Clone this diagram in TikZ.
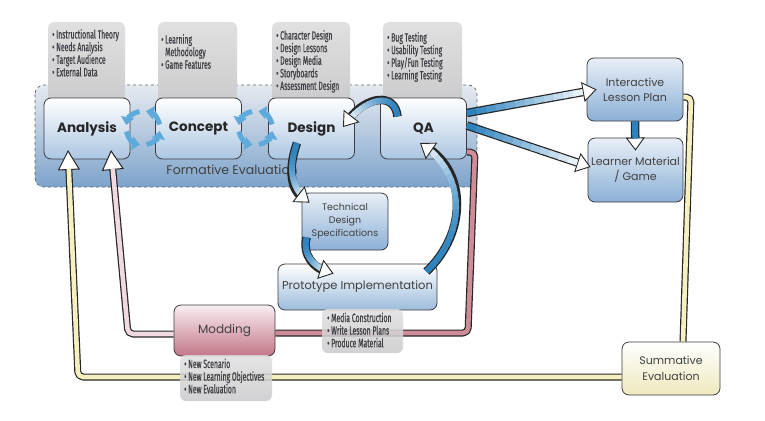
\documentclass[tikz,border=0pt]{standalone}
\usepackage{fontspec}
\setmainfont{Poppins}
\newfontfamily\condfont[FakeStretch=0.57,FakeBold=0.5]{Fira Sans}
\usetikzlibrary{arrows.meta,calc}
\definecolor{fbtop}{RGB}{230,234,240}
\definecolor{fbbot}{RGB}{125,163,203}
\definecolor{boxbot}{RGB}{172,198,226}
\definecolor{outbot}{RGB}{140,176,214}
\definecolor{tabtop}{RGB}{224,224,224}
\definecolor{tabbot}{RGB}{202,202,204}
\definecolor{tabtxt}{RGB}{62,62,68}
\definecolor{cblue}{RGB}{45,130,190}
\definecolor{ringblue}{RGB}{95,170,220}
\definecolor{yel}{RGB}{246,240,192}
\definecolor{pinkL}{RGB}{240,218,224}
\definecolor{pinkR}{RGB}{205,140,152}
\definecolor{modtop}{RGB}{248,238,240}
\definecolor{modbot}{RGB}{196,118,136}
\definecolor{sumbot}{RGB}{238,233,190}
\definecolor{edge}{RGB}{60,60,66}
% Bezier weights at parameter #1, stored in \wA..\wD
\newcommand\bzw[1]{%
  \pgfmathsetmacro\wu{1-#1}%
  \pgfmathsetmacro\wA{\wu*\wu*\wu}\pgfmathsetmacro\wB{3*\wu*\wu*#1}%
  \pgfmathsetmacro\wC{3*\wu*#1*#1}\pgfmathsetmacro\wD{#1*#1*#1}}
% gradient body of a curved arrow: start, control 1, control 2, end, last parameter
\newcommand\gcurve[5]{%
  \foreach \k in {0,...,17}{%
    \pgfmathsetmacro\ta{#5*\k/18}%
    \pgfmathsetmacro\tb{min(#5,#5*(\k+1.2)/18)}%
    \bzw{\ta}\coordinate (gP) at ($\wA*(#1)+\wB*(#2)+\wC*(#3)+\wD*(#4)$);%
    \bzw{\tb}\coordinate (gQ) at ($\wA*(#1)+\wB*(#2)+\wC*(#3)+\wD*(#4)$);%
    \pgfmathtruncatemacro\c{100-80*(\k/17)*(\k/17)}%
    \draw[line width=6pt, cblue!\c!white] (gP) -- (gQ);
  }}
% arrow head at the end of a curve
\newcommand\ghead[4]{%
  \bzw{0.95}\coordinate (gP) at ($\wA*(#1)+\wB*(#2)+\wC*(#3)+\wD*(#4)$);%
  \draw[black!85, line width=0.1pt, -{Triangle[length=14pt,width=20pt,fill=white,line width=0.9pt]}]
    (gP) -- (#4);
}
\begin{document}
\begin{tikzpicture}[x=1pt,y=-1pt,
  phase/.style={draw=edge, line width=0.8pt, rounded corners=7pt, top color=white, bottom color=boxbot,
    minimum width=86pt, minimum height=61pt, font=\fontsize{13.5}{16}\selectfont\bfseries, text=black!85},
  outbox/.style={draw=edge, line width=0.8pt, rounded corners=7pt, top color=white!80!outbot, bottom color=outbot,
    align=center, text=black!75, inner xsep=0pt},
  tabshape/.style={rounded corners=6pt, top color=tabtop, bottom color=tabbot},
  tabtext/.style={anchor=north west, align=left, inner sep=0pt, text=tabtxt,
    font=\condfont\fontsize{12}{12.6}\selectfont},
  lineout/.style={line width=7pt, draw=black!85, rounded corners=5pt, line join=round},
  linein/.style={line width=4.6pt, rounded corners=5pt, line join=round, shorten >=19pt},
  bigtip/.style={-{Triangle[length=20pt,width=22pt,fill=white,line width=1pt]}},
  fatout/.style={line width=8.5pt, draw=black!85},
  fattip/.style={-{Triangle[length=14pt,width=20pt,fill=white,line width=0.9pt]}},
  ring/.style={ringblue, line width=5pt, -{Triangle[length=8pt,width=13pt]}}
]
\fill[white] (0,0) rectangle (765,420);
\useasboundingbox (0,0) rectangle (765,420);

% formative evaluation region
\draw[dashed, draw=edge!80, line width=0.7pt, rounded corners=9pt, top color=fbtop, bottom color=fbbot]
  (35,85) rectangle (477,187);
\node[font=\fontsize{12.5}{14}\selectfont, text=black!75] (form) at (232,170) {Formative Evaluation};

% top tabs
\path[tabshape] (48,22) rectangle (125,106);
\path[tabshape] (158,22) rectangle (237,106);
\path[tabshape] (272,22) rectangle (350,106);
\path[tabshape] (383,22) rectangle (462,106);
\node[tabtext] (tA) at (52,29) {• Instructional Theory\\• Needs Analysis\\• Target Audience\\• External Data};
\node[tabtext] (tC) at (161,34) {• Learning\\\phantom{• }Methodology\\• Game Features};
\node[tabtext] (tD) at (276,30) {• Character Design\\• Design Lessons\\• Design Media\\• Storyboards\\• Assessment Design};
\node[tabtext] (tQ) at (387,32) {• Bug Testing\\• Usability Testing\\• Play/Fun Testing\\• Learning Testing};

% phase boxes
\node[phase] (ana) at (87,128.5) {Analysis};
\node[phase] (con) at (198.5,128.5) {Concept};
\node[phase] (des) at (311.5,128.5) {Design};
\node[phase] (qa) at (423.5,128.5) {QA};

% other boxes
\node[outbox, minimum width=96pt, minimum height=63pt, font=\fontsize{11}{15}\selectfont] (ilp) at (635,89.5) {Interactive\\Lesson Plan};
\node[outbox, minimum width=95pt, minimum height=64pt, font=\fontsize{11}{15}\selectfont] (lm) at (635.5,170) {Learner Material\\/ Game};
\node[outbox, minimum width=86pt, minimum height=57pt, font=\fontsize{9.5}{13}\selectfont] (tds) at (345,221.5) {Technical\\Design\\Specifications};
\node[outbox, top color=white, bottom color=outbot!85, minimum width=159pt, minimum height=46pt, font=\fontsize{11.5}{14}\selectfont] (proto) at (357.5,287) {Prototype Implementation};
\node[outbox, top color=modtop, bottom color=modbot, minimum width=101pt, minimum height=51pt, font=\fontsize{12}{14}\selectfont] (mod) at (224.5,330.5) {Modding};
\node[outbox, top color=white, bottom color=sumbot, minimum width=98pt, minimum height=53pt, font=\fontsize{11}{16}\selectfont] (summ) at (671,368.5) {Summative\\Evaluation};

% feedback lines
\coordinate (yc1) at (78,377);
\coordinate (ytip) at (68,150);
\coordinate (yc2) at (691,97);
\coordinate (pc1) at (128,334);
\coordinate (ptip) at (111,150);
\coordinate (pc2) at (468,333);
\coordinate (pc3) at (475,152);

\draw[lineout] ($(summ.north)+(12,0)$) -- (yc2) -- ($(ilp.east)+(0,7.5)$);
\draw[linein, yel, shorten >=0pt] ($(summ.north)+(12,0)$) -- (yc2) -- ($(ilp.east)+(0,7.5)$);
\draw[lineout, bigtip] ($(summ.west)+(0,8.5)$) -- (yc1) -- (ytip);
\draw[linein, yel] ($(summ.west)+(0,8.5)$) -- (yc1) -- (ytip);

\draw[lineout] ($(mod.east)+(0,2.5)$) -- (pc2) -- (pc3) -- ($(qa.east)+(0,23.5)$);
\draw[linein, pinkR, shorten >=0pt] ($(mod.east)+(0,2.5)$) -- (pc2) -- (pc3) -- ($(qa.east)+(0,23.5)$);
\draw[lineout, bigtip] ($(mod.west)+(0,3.5)$) -- (pc1) -- (ptip);
\draw[linein, pinkL] ($(mod.west)+(0,3.5)$) -- (pc1) -- (ptip);

% bottom tabs
\path[tabshape, opacity=0.85] (322,309) rectangle (403,353);
\path[tabshape, opacity=0.85] (180,355) rectangle (272,401);
\node[tabtext] (tP) at (327,312.5) {• Media Construction\\• Write Lesson Plans\\• Produce Material};
\node[tabtext] (tM) at (184,358.5) {• New Scenario\\• New Learning Objectives\\• New Evaluation};

% straight fat arrows from QA
\coordinate (A1) at ($(qa.east)+(0,-15.5)$);
\coordinate (T1) at ($(ilp.west)+(10,0)$);
\coordinate (A2) at ($(qa.east)+(0,-3)$);
\coordinate (T2) at ($(lm.west)+(3,-3)$);
\coordinate (B1) at ($(T1)!14pt!(A1)$);
\coordinate (B2) at ($(T2)!14pt!(A2)$);
\draw[fatout, fattip] (A1) -- (T1);
\draw[fatout, fattip] (A2) -- (T2);
\foreach \i in {0,...,11}{
  \pgfmathsetmacro\pa{\i/12}
  \pgfmathsetmacro\pb{min(1,(\i+1)/12+0.02)}
  \pgfmathtruncatemacro\c{100-\i*8}
  \draw[line width=6pt, cblue!\c!white] ($(A1)!\pa!(B1)$) -- ($(A1)!\pb!(B1)$);
  \draw[line width=6pt, cblue!\c!white] ($(A2)!\pa!(B2)$) -- ($(A2)!\pb!(B2)$);
}

% ILP -> LM
\draw[fatout, -{Triangle[length=13pt,width=19pt,fill=white,line width=0.9pt]}] (ilp.south) -- ($(lm.north)+(0,13)$);
\draw[line width=6pt, cblue, shorten >=12pt] (ilp.south) -- ($(lm.north)+(0,13)$);

% curved fat arrows
\coordinate (s1) at ($(qa.center)+(-26,-12)$);
\coordinate (c11) at (395,92);
\coordinate (c12) at (366,96);
\coordinate (e1) at ($(des.center)+(31.5,-1.5)$);
\coordinate (s2) at ($(des.center)+(-14.5,14.5)$);
\coordinate (c21) at (289,165);
\coordinate (c22) at (289,188);
\coordinate (e2) at ($(tds.north west)+(8,10)$);
\coordinate (s3) at ($(tds.south west)+(5,-13)$);
\coordinate (c31) at (302,256);
\coordinate (c32) at (315,268);
\coordinate (e3) at ($(proto.north west)+(56,10)$);
\coordinate (s4) at ($(proto.north east)+(-11,8)$);
\coordinate (c41) at (468,232);
\coordinate (c42) at (466,172);
\coordinate (e4) at ($(qa.center)+(-3.5,14.5)$);

\foreach \n in {1,2,3,4}{
  \draw[fatout, shorten >=9pt] (s\n) .. controls (c\n1) and (c\n2) .. (e\n);
}
\gcurve{s1}{c11}{c12}{e1}{0.88}
\ghead{s1}{c11}{c12}{e1}
\gcurve{s2}{c21}{c22}{e2}{0.86}
\ghead{s2}{c21}{c22}{e2}
\gcurve{s3}{c31}{c32}{e3}{0.82}
\ghead{s3}{c31}{c32}{e3}
\gcurve{s4}{c41}{c42}{e4}{0.92}
\ghead{s4}{c41}{c42}{e4}

% cycle rings
\coordinate (r1) at (143,128);
\coordinate (r2) at (255.5,128);
\foreach \r in {r1,r2}{
  \foreach \a in {0,90,180,270}{
    \draw[ring] ($(\r)+(\a+12:17pt)$) arc[start angle=\a+12, end angle=\a+80, radius=17pt];
  }
}
\end{tikzpicture}
\end{document}
